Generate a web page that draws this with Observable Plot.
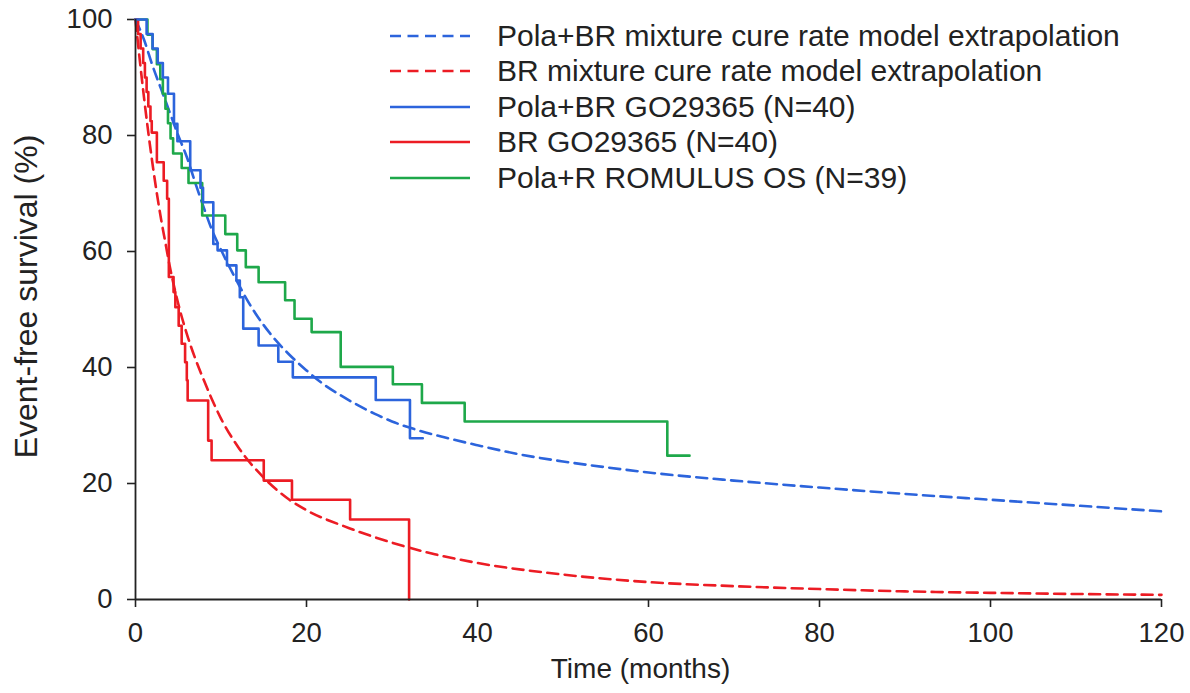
<!DOCTYPE html>
<html><head><meta charset="utf-8">
<script src="https://cdn.jsdelivr.net/npm/d3@7"></script>
<script src="https://cdn.jsdelivr.net/npm/@observablehq/plot@0.6"></script>
<style>
body{margin:0;background:#fff;font-family:"Liberation Sans",Arial,sans-serif;}
#wrap{position:relative;width:1190px;height:693px;}
#legend{position:absolute;left:390px;top:18px;font-size:30px;color:#222;}
.row{display:flex;align-items:center;height:35.5px;white-space:nowrap;}
.row svg{width:80px;height:10px;margin-right:27px;flex:none;}
</style></head><body>
<div id="wrap"><div id="chart"></div><div id="legend"></div></div>
<script>
// ---- data ----
const xTicks = [0, 20, 40, 60, 80, 100, 120];
const yTicks = [0, 20, 40, 60, 80, 100];

const seriesNames = [
  "Pola+BR mixture cure rate model extrapolation",
  "BR mixture cure rate model extrapolation",
  "Pola+BR GO29365 (N=40)",
  "BR GO29365 (N=40)",
  "Pola+R ROMULUS OS (N=39)"
];
const seriesColors = ["#2c64dc", "#ec1c24", "#2c64dc", "#ec1c24", "#1ea84a"];
const seriesDashed = [true, true, false, false, false];

// Kaplan-Meier steps (months, %)
const polaBrTime = [0, 1.3, 2.0, 2.6, 3.2, 3.8, 4.5, 4.9, 6.4, 7.6, 7.9, 9.1, 9.6, 10.7, 11.8, 12.2, 12.6, 14.4, 16.7, 18.4, 28.1, 32.1, 33.6];
const polaBrSurv = [100, 97.5, 95, 92.5, 90, 87.2, 82, 79, 74, 71, 68.5, 61.3, 60.2, 57.6, 55, 52.1, 46.7, 43.8, 41, 38.3, 34.4, 27.8, 27.8];

const brTime = [0, 0.3, 0.6, 0.9, 1.1, 1.3, 1.5, 1.75, 1.9, 2.5, 3.3, 3.7, 3.9, 4.45, 4.66, 5.05, 5.4, 5.8, 6.0, 6.1, 8.5, 8.9, 15.0, 18.3, 25.1, 32.0];
const brSurv = [100, 97.5, 95, 92.5, 90, 87.5, 85, 82.5, 80.5, 75.4, 72.2, 69.1, 55.6, 53, 50.4, 47.2, 44.1, 40.9, 37.8, 34.3, 27.4, 24, 20.5, 17.2, 13.8, 0];

const romulusTime = [0, 1.4, 2.0, 2.5, 2.9, 3.2, 3.5, 3.8, 4.1, 4.4, 5.4, 6.2, 7.8, 10.5, 11.9, 12.9, 14.4, 17.5, 18.6, 20.6, 24.0, 30.1, 33.5, 38.5, 62.2, 64.8];
const romulusSurv = [100, 97.4, 94.9, 92.3, 89.7, 87.2, 84.6, 82.1, 79.5, 76.9, 74.4, 71.8, 66.2, 63, 60.2, 57.3, 54.7, 51.6, 48.4, 46.1, 40.1, 37.1, 33.9, 30.7, 24.8, 24.8];

// Model extrapolations (months, %)
const polaBrCureTime = [0, 1, 2, 3, 4, 5, 6, 7, 8, 9, 10, 11, 12, 13, 14, 16, 18, 20, 22, 24, 26, 28, 30, 33, 36, 40, 45, 50, 55, 60, 70, 80, 90, 100, 110, 120];
const polaBrCureSurv = [100, 96.5, 92, 88, 84, 80, 76.3, 71.8, 67.5, 63.5, 60.3, 57.3, 54.5, 51.8, 49.4, 45.4, 42.2, 39.5, 37.1, 35.2, 33.5, 32, 30.7, 29.2, 28, 26.6, 25, 23.8, 22.8, 21.9, 20.5, 19.3, 18.2, 17.2, 16.2, 15.2];

const brCureTime = [0, 0.5, 1, 1.5, 2, 2.5, 3, 3.5, 4, 5, 6, 7, 8, 9, 10, 12, 15, 18, 20, 25, 30, 35, 40, 50, 60, 70, 80, 90, 100, 110, 120];
const brCureSurv = [100, 93, 86.5, 80.5, 75, 70, 65.5, 61.5, 57.5, 51, 45.8, 41.5, 37.8, 34.3, 31.2, 26.3, 21, 17.2, 15.4, 12.3, 9.8, 7.8, 6.3, 4.3, 3.0, 2.3, 1.8, 1.4, 1.15, 0.95, 0.8];

// ---- build tables ----
const toRows = (t, s) => t.map((x, i) => ({t: x, s: s[i]}));
const polaBr = toRows(polaBrTime, polaBrSurv);
const br = toRows(brTime, brSurv);
const romulus = toRows(romulusTime, romulusSurv);
const polaBrCure = toRows(polaBrCureTime, polaBrCureSurv);
const brCure = toRows(brCureTime, brCureSurv);

const lw = 2.6;
const dash = "11,6.5";

const chart = Plot.plot({
  width: 1190, height: 693,
  marginLeft: 135, marginRight: 29, marginTop: 19, marginBottom: 94,
  style: {fontSize: "27.5px", fontFamily: "Liberation Sans, Arial, sans-serif", color: "#222", background: "white", overflow: "visible"},
  x: {domain: [0, 120], ticks: xTicks, tickSize: 8, tickPadding: 15, label: "Time (months)", labelAnchor: "center", labelOffset: 78, labelArrow: "none"},
  y: {domain: [0, 100], ticks: yTicks, tickSize: 8, tickPadding: 15, label: "Event-free survival (%)", labelAnchor: "center", labelOffset: 121, labelArrow: "none"},
  marks: [
    Plot.line(brCure, {x: "t", y: "s", stroke: seriesColors[1], strokeWidth: lw, strokeDasharray: dash, curve: "monotone-x"}),
    Plot.line(polaBrCure, {x: "t", y: "s", stroke: seriesColors[0], strokeWidth: lw, strokeDasharray: dash, curve: "monotone-x"}),
    Plot.line(romulus, {x: "t", y: "s", stroke: seriesColors[4], strokeWidth: lw, curve: "step-after"}),
    Plot.line(br, {x: "t", y: "s", stroke: seriesColors[3], strokeWidth: lw, curve: "step-after"}),
    Plot.line(polaBr, {x: "t", y: "s", stroke: seriesColors[2], strokeWidth: lw, curve: "step-after"}),
    Plot.ruleX([0], {stroke: "#222", strokeWidth: 1.8}),
    Plot.ruleY([0], {stroke: "#222", strokeWidth: 1.8})
  ]
});
// axis label sizes and small offsets
d3.select(chart).selectAll('g[aria-label="x-axis label"]').attr("font-size", 28)
  .selectAll("text").attr("dx", -8);
d3.select(chart).selectAll('g[aria-label="y-axis label"]').attr("font-size", 32)
  .selectAll("text").attr("dx", 13);
d3.select(chart).selectAll('g[aria-label="x-axis tick"], g[aria-label="y-axis tick"]').attr("stroke-width", 1.6);
document.getElementById("chart").appendChild(chart);

// legend
const leg = document.getElementById("legend");
seriesNames.forEach((name, i) => {
  const row = document.createElement("div");
  row.className = "row";
  row.innerHTML = `<svg viewBox="0 0 80 10"><line x1="0" y1="5" x2="80" y2="5" stroke="${seriesColors[i]}" stroke-width="${lw}" ${seriesDashed[i] ? `stroke-dasharray="${dash}"` : ""}/></svg><span>${name}</span>`;
  leg.appendChild(row);
});
</script>
</body></html>
